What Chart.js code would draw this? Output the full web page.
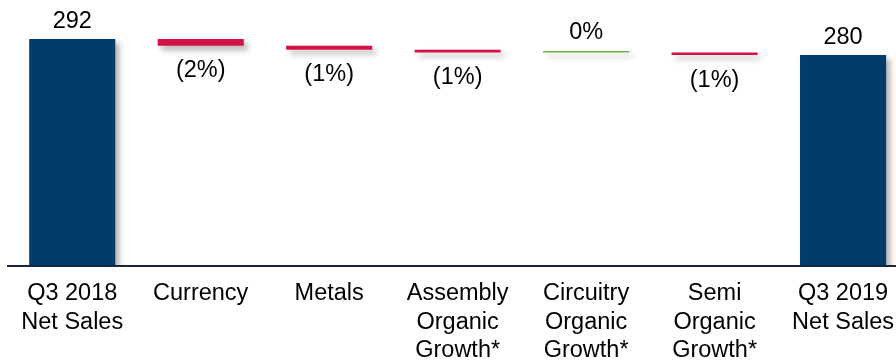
<!DOCTYPE html>
<html>
<head>
<meta charset="utf-8">
<script src="https://cdn.jsdelivr.net/npm/chart.js@4.4.1/dist/chart.umd.min.js"></script>
<style>
  html, body { margin: 0; padding: 0; background: #ffffff; overflow: hidden; width: 896px; height: 360px; }
  #c { position: absolute; left: 0; top: 0; display: block; }
</style>
</head>
<body>
<canvas id="c" width="908" height="379"></canvas>
<script>
// ---- data ----
const categories = [
  ["Q3 2018", "Net Sales"],
  ["Currency"],
  ["Metals"],
  ["Assembly", "Organic", "Growth*"],
  ["Circuitry", "Organic", "Growth*"],
  ["Semi", "Organic", "Growth*"],
  ["Q3 2019", "Net Sales"]
];
const startValue = 292;
const endValue = 280;
const changes = [-5, -3, -2, 0, -2];           // Currency, Metals, Assembly, Circuitry, Semi
const valueLabels = ["292", "(2%)", "(1%)", "(1%)", "0%", "(1%)", "280"];

// ---- styling ----
const BLUE = "#023C6B", RED = "#D31145", GREEN = "#6DB33F";
const AXIS_MIN = 122.5, AXIS_MAX = 321.25;
const FONT = "'Liberation Sans', Arial, sans-serif";

// build floating bars
const barData = [];
const barColors = [];
barData.push([AXIS_MIN, startValue]); barColors.push(BLUE);
let running = startValue;
changes.forEach(c => {
  const next = running + c;
  barData.push([Math.min(running, next), Math.max(running, next)]);
  barColors.push(c < 0 ? RED : GREEN);
  running = next;
});
barData.push([AXIS_MIN, endValue]); barColors.push(BLUE);

const shadowPlugin = {
  id: 'shadow',
  beforeDatasetsDraw(chart) {
    const ctx = chart.ctx;
    ctx.save();
    ctx.shadowColor = 'rgba(0,0,0,0.32)';
    ctx.shadowBlur = 6;
    ctx.shadowOffsetX = 4;
    ctx.shadowOffsetY = 4;
  },
  afterDatasetsDraw(chart) {
    chart.ctx.restore();
  }
};

const labelPlugin = {
  id: 'valueLabels',
  afterDatasetsDraw(chart) {
    const ctx = chart.ctx;
    const meta = chart.getDatasetMeta(0);
    ctx.save();
    ctx.font = "23.5px " + FONT;
    ctx.fillStyle = "#000000";
    ctx.textAlign = "center";
    ctx.textBaseline = "middle";
    meta.data.forEach((bar, i) => {
      const p = bar.getProps(['x', 'y', 'base'], true);
      const top = Math.min(p.y, p.base);
      const bottom = Math.max(p.y, p.base);
      const isNeg = i > 0 && i < categories.length - 1 && changes[i - 1] < 0;
      const y = isNeg ? bottom + 25 : top - 18;
      ctx.fillText(valueLabels[i], p.x, y);
    });
    ctx.restore();
  }
};

new Chart(document.getElementById('c'), {
  type: 'bar',
  data: {
    labels: categories,
    datasets: [{
      data: barData,
      backgroundColor: barColors,
      borderWidth: 0,
      minBarLength: 1.5,
      barPercentage: 0.67,
      categoryPercentage: 1.0
    }]
  },
  options: {
    responsive: false,
    animation: false,
    devicePixelRatio: 1,
    layout: { padding: { left: 8, right: 0, top: 0, bottom: 0 } },
    plugins: { legend: { display: false }, tooltip: { enabled: false } },
    scales: {
      y: { display: false, min: AXIS_MIN, max: AXIS_MAX },
      x: {
        grid: { display: false, drawTicks: false },
        border: { display: true, color: '#1B2440', width: 2 },
        ticks: {
          color: '#000000',
          font: { family: FONT, size: 23.5, lineHeight: '28.5px' },
          padding: 14,
          maxRotation: 0,
          autoSkip: false
        }
      }
    }
  },
  plugins: [shadowPlugin, labelPlugin]
});
</script>
</body>
</html>
